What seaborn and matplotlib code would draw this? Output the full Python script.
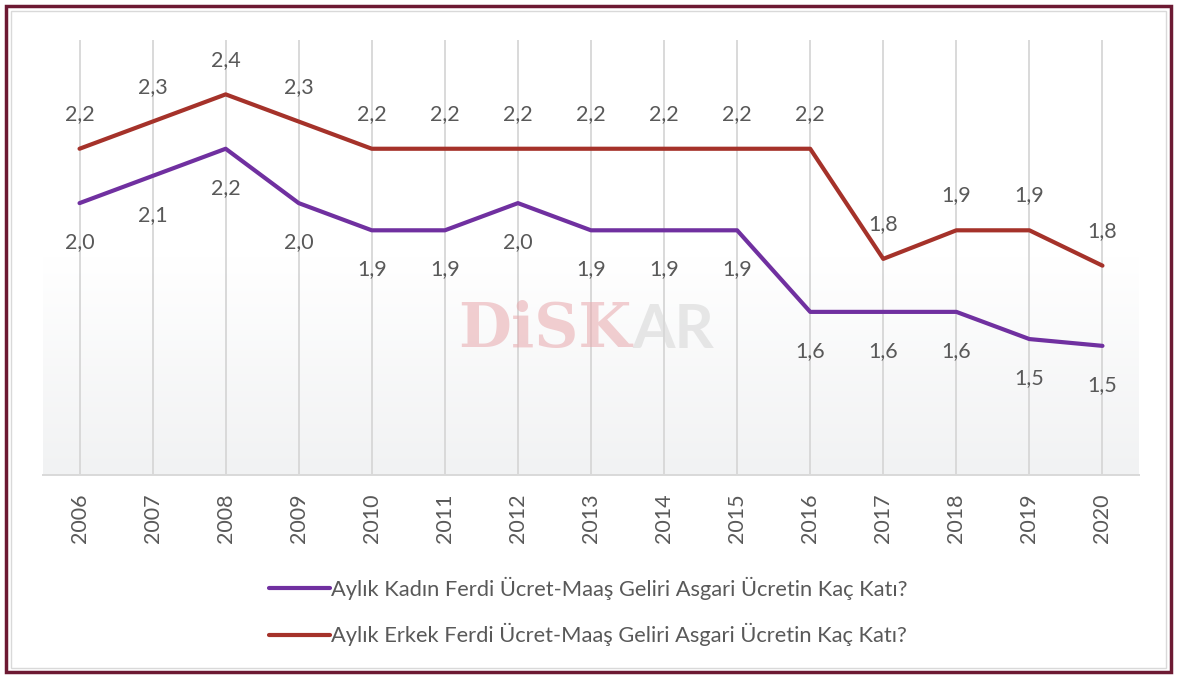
import seaborn as sns
import matplotlib.pyplot as plt
import matplotlib.patches as mpatches
from matplotlib.colors import LinearSegmentedColormap
import pandas as pd
import numpy as np

years = [str(y) for y in range(2006, 2021)]
kadin = [2.0, 2.1, 2.2, 2.0, 1.9, 1.9, 2.0, 1.9, 1.9, 1.9, 1.6, 1.6, 1.6, 1.5, 1.475]
erkek = [2.2, 2.3, 2.4, 2.3, 2.2, 2.2, 2.2, 2.2, 2.2, 2.2, 2.2, 1.795, 1.9, 1.9, 1.77]
series_names = [
    "Aylık Kadın Ferdi Ücret-Maaş Geliri Asgari Ücretin Kaç Katı?",
    "Aylık Erkek Ferdi Ücret-Maaş Geliri Asgari Ücretin Kaç Katı?",
]
colors = ["#7030a0", "#a5322a"]

df = pd.DataFrame({
    "Yıl": years * 2,
    "Değer": kadin + erkek,
    "Seri": [series_names[0]] * len(years) + [series_names[1]] * len(years),
})

sns.set_style("white")
plt.rcParams["font.family"] = ["Lato", "DejaVu Sans"]
TXT = "#595959"

DPI = 100
fig = plt.figure(figsize=(1177 / DPI, 678 / DPI), dpi=DPI)
ax = fig.add_axes([43 / 1177, (678 - 475) / 678, 1096 / 1177, 435 / 678])

# soft gradient background in the plot area
grad = np.linspace(0, 1, 256).reshape(-1, 1)
cmap = LinearSegmentedColormap.from_list("bg", ["#f1f2f3", "#ffffff", "#ffffff"])
ax.imshow(grad, extent=[0, 1, 0, 1], transform=ax.transAxes, cmap=cmap,
          aspect="auto", origin="lower", zorder=0)

sns.lineplot(data=df, x="Yıl", y="Değer", hue="Seri", palette=colors,
             linewidth=3.0, ax=ax, zorder=3, sort=False)

ax.set_xlim(-0.5, len(years) - 0.5)
ax.set_ylim(1.0, 2.6)
ax.set_yticks([])
ax.set_xlabel("")
ax.set_ylabel("")
for i in range(len(years)):
    ax.axvline(i, color="#d9d9d9", linewidth=1.4, zorder=1)
for s in ["top", "right", "left"]:
    ax.spines[s].set_visible(False)
ax.spines["bottom"].set_color("#d9d9d9")
ax.spines["bottom"].set_linewidth(1.4)
ax.tick_params(axis="x", length=0, pad=13, labelsize=15.5, labelcolor=TXT, rotation=90)

# data labels
for i, v in enumerate(kadin):
    ax.annotate(f"{v:.1f}".replace(".", ","), (i, v), xytext=(0, -28),
                textcoords="offset points", ha="center", va="center",
                fontsize=15.5, color=TXT, zorder=4)
for i, v in enumerate(erkek):
    ax.annotate(f"{v:.1f}".replace(".", ","), (i, v), xytext=(0, 25),
                textcoords="offset points", ha="center", va="center",
                fontsize=15.5, color=TXT, zorder=4)

# watermark
fig.text(458 / 1177, 1 - 330 / 678, "DiSK", fontsize=44, fontweight="bold",
         color="#e8a8ac", alpha=0.55, ha="left", va="center", family="DejaVu Serif")
fig.text(632 / 1177, 1 - 330 / 678, "AR", fontsize=44, fontweight="bold",
         color="#d8d8d8", alpha=0.6, ha="left", va="center")

# legend
handles, labels = ax.get_legend_handles_labels()
ax.legend(handles, labels, loc="upper left", bbox_to_anchor=(258 / 1177, 1 - 566 / 678),
          bbox_transform=fig.transFigure, frameon=False, fontsize=15.75, borderpad=0,
          labelcolor=TXT, handlelength=2.8, handletextpad=0.05, labelspacing=1.05)

# frame
fig.patches.append(mpatches.Rectangle((6 / 1177, 6 / 678), 1165 / 1177, 666 / 678,
                                      transform=fig.transFigure, fill=False,
                                      edgecolor="#6d1a33", linewidth=2.5))
fig.patches.append(mpatches.Rectangle((11 / 1177, 10 / 678), 1155 / 1177, 657 / 678,
                                      transform=fig.transFigure, fill=False,
                                      edgecolor="#d9d9d9", linewidth=1.0))

plt.savefig("out.png", dpi=DPI, bbox_inches=None, pad_inches=0)
plt.close()
